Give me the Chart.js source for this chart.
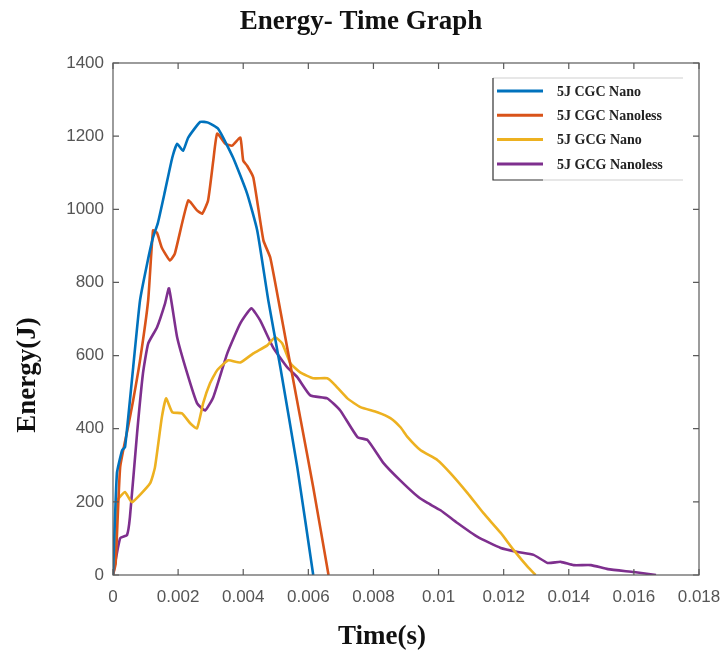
<!DOCTYPE html>
<html lang="en">
<head>
<meta charset="UTF-8">
<title>Energy- Time Graph</title>
<script src="https://cdn.jsdelivr.net/npm/chart.js"></script>
<style>
  body { margin: 0; background: #fff; }
  #wrap { width: 723px; height: 655px; position: relative; }
</style>
</head>
<body>
<div id="wrap"><canvas id="energyChart"></canvas></div>
<script>
// time (s) and energy (J) samples for each specimen
const cgcNanoT = [0, 0.00012, 0.00028, 0.00037, 0.00062, 0.00083, 0.00105, 0.00123, 0.00138, 0.00160, 0.00182, 0.00197, 0.00215, 0.00231, 0.00268, 0.00292, 0.00323, 0.00369, 0.00412, 0.00443, 0.00477, 0.00514, 0.00566, 0.00615];
const cgcNanoE = [0, 278, 341, 350, 568, 751, 852, 923, 963, 1051, 1141, 1179, 1160, 1196, 1239, 1237, 1220, 1141, 1043, 942, 751, 568, 295, 0];

const cgcNanolessT = [0, 0.00008, 0.00022, 0.00046, 0.00062, 0.00083, 0.00108, 0.00123, 0.00135, 0.0015, 0.00175, 0.0019, 0.00231, 0.00258, 0.00274, 0.00292, 0.00308, 0.0032, 0.00345, 0.00366, 0.00391, 0.004, 0.00412, 0.00431, 0.00462, 0.00483, 0.00514, 0.00535, 0.00575, 0.00615, 0.00662];
const cgcNanolessE = [0, 30, 295, 404, 478, 587, 751, 942, 936, 895, 860, 879, 1024, 997, 988, 1024, 1133, 1207, 1179, 1174, 1196, 1133, 1119, 1087, 915, 868, 723, 622, 431, 240, 0];

const gcgNanoT = [0, 0.00015, 0.00037, 0.00058, 0.00114, 0.00129, 0.0015, 0.00163, 0.00182, 0.00212, 0.00237, 0.00258, 0.00277, 0.00298, 0.0032, 0.00354, 0.00391, 0.00431, 0.00474, 0.00498, 0.0052, 0.00545, 0.00575, 0.00615, 0.00658, 0.00677, 0.0072, 0.0076, 0.00812, 0.00852, 0.00883, 0.00905, 0.00945, 0.00997, 0.01037, 0.01089, 0.01138, 0.01191, 0.01231, 0.01274, 0.01298];
const gcgNanoE = [0, 205, 227, 199, 251, 295, 431, 483, 445, 442, 415, 401, 470, 524, 560, 587, 581, 606, 628, 650, 633, 579, 554, 538, 538, 524, 483, 459, 445, 429, 404, 377, 341, 314, 278, 224, 169, 115, 68, 22, 0];

const gcgNanolessT = [0, 0.00022, 0.00043, 0.00052, 0.00074, 0.00092, 0.00108, 0.00135, 0.0016, 0.00172, 0.00197, 0.00228, 0.00258, 0.00283, 0.00308, 0.00351, 0.00391, 0.00425, 0.00452, 0.00492, 0.00535, 0.00566, 0.00606, 0.00658, 0.00698, 0.00751, 0.00782, 0.00831, 0.00883, 0.00938, 0.00966, 0.01006, 0.01058, 0.0112, 0.01191, 0.01243, 0.01292, 0.01335, 0.01375, 0.01415, 0.01468, 0.0152, 0.016, 0.01668];
const gcgNanolessE = [0, 101, 109, 158, 388, 551, 633, 677, 743, 784, 650, 551, 470, 450, 486, 606, 688, 729, 696, 622, 568, 541, 491, 483, 450, 377, 369, 306, 258, 213, 197, 177, 142, 104, 74, 63, 55, 33, 36, 27, 27, 16, 8, 0];

const seriesLabels = ['5J CGC Nano', '5J CGC Nanoless', '5J GCG Nano', '5J GCG Nanoless'];
const seriesColors = ['#0072BD', '#D95319', '#EDB120', '#7E2F8E'];

const xTicks = [0, 0.002, 0.004, 0.006, 0.008, 0.01, 0.012, 0.014, 0.016, 0.018];
const yTicks = [0, 200, 400, 600, 800, 1000, 1200, 1400];

const toPoints = (t, e) => t.map((v, i) => ({ x: v, y: e[i] }));
const seriesData = [
  toPoints(cgcNanoT, cgcNanoE),
  toPoints(cgcNanolessT, cgcNanolessE),
  toPoints(gcgNanoT, gcgNanoE),
  toPoints(gcgNanolessT, gcgNanolessE)
];

const serif = "'Liberation Serif', 'Times New Roman', serif";
const sans = "'Liberation Sans', Arial, sans-serif";

// box around the plot with inward tick marks on all four sides
const frame = {
  id: 'frame',
  afterDraw(chart) {
    const { ctx, chartArea: a, scales: { x, y } } = chart;
    const len = 6;
    ctx.save();
    ctx.strokeStyle = '#5a5a5a';
    ctx.lineWidth = 1.2;
    ctx.strokeRect(a.left, a.top, a.right - a.left, a.bottom - a.top);
    ctx.beginPath();
    xTicks.forEach(v => {
      const px = x.getPixelForValue(v);
      ctx.moveTo(px, a.bottom); ctx.lineTo(px, a.bottom - len);
      ctx.moveTo(px, a.top); ctx.lineTo(px, a.top + len);
    });
    yTicks.forEach(v => {
      const py = y.getPixelForValue(v);
      ctx.moveTo(a.left, py); ctx.lineTo(a.left + len, py);
      ctx.moveTo(a.right, py); ctx.lineTo(a.right - len, py);
    });
    ctx.stroke();
    ctx.restore();
  }
};

// chart title and axis titles
const titles = {
  id: 'titles',
  afterDraw(chart) {
    const { ctx } = chart;
    ctx.save();
    ctx.fillStyle = '#111';
    ctx.textAlign = 'center';
    ctx.textBaseline = 'middle';
    ctx.font = 'bold 27px ' + serif;
    ctx.fillText('Energy- Time Graph', 361, 22);
    ctx.font = 'bold 27px ' + serif;
    ctx.fillText('Time(s)', 382, 637);
    ctx.translate(28, 375);
    ctx.rotate(-Math.PI / 2);
    ctx.fillText('Energy(J)', 0, 0);
    ctx.restore();
  }
};

// legend box in the upper right corner
const legendBox = {
  id: 'legendBox',
  afterDraw(chart) {
    const { ctx } = chart;
    const left = 493, top = 78, right = 683, bottom = 180;
    ctx.save();
    ctx.fillStyle = '#fff';
    ctx.fillRect(left, top, right - left, bottom - top);
    ctx.lineWidth = 1.2;
    ctx.strokeStyle = '#d0d0d0';
    ctx.beginPath();
    ctx.moveTo(left, top); ctx.lineTo(right, top);
    ctx.moveTo(543, bottom); ctx.lineTo(right, bottom);
    ctx.stroke();
    ctx.strokeStyle = '#333';
    ctx.beginPath();
    ctx.moveTo(left, top); ctx.lineTo(left, bottom); ctx.lineTo(543, bottom);
    ctx.stroke();
    ctx.font = 'bold 14px ' + serif;
    ctx.textBaseline = 'middle';
    chart.data.datasets.forEach((ds, i) => {
      const ly = 91 + i * 24.3;
      ctx.strokeStyle = ds.borderColor;
      ctx.lineWidth = 3;
      ctx.beginPath();
      ctx.moveTo(497, ly); ctx.lineTo(543, ly);
      ctx.stroke();
      ctx.fillStyle = '#222';
      ctx.fillText(ds.label, 557, ly + 1);
    });
    ctx.restore();
  }
};

new Chart(document.getElementById('energyChart'), {
  type: 'line',
  data: {
    datasets: seriesData.map((d, i) => ({
      label: seriesLabels[i],
      data: d,
      borderColor: seriesColors[i],
      borderWidth: 2.6,
      pointRadius: 0,
      tension: 0.15,
      fill: false
    }))
  },
  options: {
    responsive: true,
    maintainAspectRatio: false,
    animation: false,
    layout: { padding: { left: 0, top: 63, right: 24, bottom: 0 } },
    plugins: { legend: { display: false }, tooltip: { enabled: false } },
    scales: {
      x: {
        type: 'linear',
        min: 0, max: 0.018,
        afterBuildTicks: s => { s.ticks = xTicks.map(v => ({ value: v })); },
        afterFit: s => { s.height = 80; s.paddingLeft = 0; s.paddingRight = 0; },
        grid: { display: false, drawTicks: false },
        border: { display: false },
        ticks: {
          padding: 12,
          color: '#555',
          font: { family: sans, size: 17 },
          maxRotation: 0,
          callback: v => String(+v.toFixed(3))
        }
      },
      y: {
        min: 0, max: 1400,
        afterBuildTicks: s => { s.ticks = yTicks.map(v => ({ value: v })); },
        afterFit: s => { s.width = 113; s.paddingTop = 0; s.paddingBottom = 0; },
        grid: { display: false, drawTicks: false },
        border: { display: false },
        ticks: {
          padding: 9,
          color: '#555',
          font: { family: sans, size: 17 },
          callback: v => String(v)
        }
      }
    }
  },
  plugins: [frame, titles, legendBox]
});
</script>
</body>
</html>
